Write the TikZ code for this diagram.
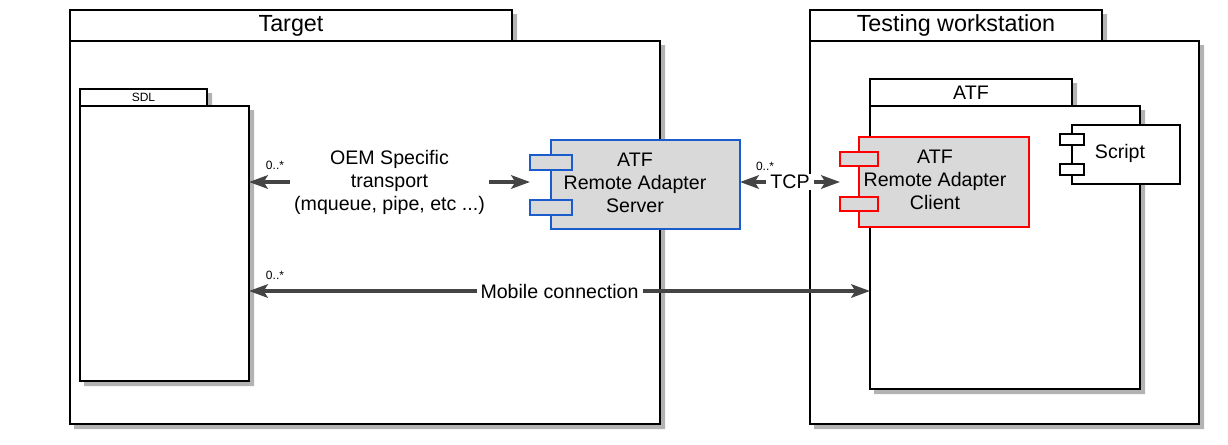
\documentclass[tikz,border=0pt]{standalone}
\usepackage{fontspec}
\setmainfont{Liberation Sans}
\usetikzlibrary{arrows.meta}
\definecolor{shadowgray}{HTML}{B3B3B3}
\definecolor{conngray}{HTML}{444444}
\definecolor{compfill}{HTML}{D9D9D9}
\definecolor{compblue}{HTML}{1A5CCC}
\definecolor{compred}{HTML}{FF0000}
\newcommand\myshadow[1]{%
  \fill[shadowgray] ([shift={(1,4)}]#1.north east) -- ([shift={(5,4)}]#1.north east)
    -- ([shift={(5,5)}]#1.south east) -- ([shift={(4,5)}]#1.south west)
    -- ([shift={(4,1)}]#1.south west) -- ([shift={(1,1)}]#1.south east) -- cycle;}
\begin{document}
\begin{tikzpicture}[x=0.75pt,y=-0.75pt,
  sz/.style 2 args={minimum width=#1*0.75pt, minimum height=#2*0.75pt},
  frame/.style={draw=black, line width=1.5pt, fill=white, inner sep=0pt, outer sep=0pt},
  tabtext/.style={font=\fontsize{17.5}{20}\selectfont},
  midtext/.style={font=\fontsize{14.7}{17.3}\selectfont},
  smalltext/.style={font=\fontsize{9}{10}\selectfont},
  comp/.style={draw=#1, line width=1.5pt, fill=compfill, inner sep=0pt, outer sep=0pt, anchor=north west},
  plaincomp/.style={draw=black, line width=1.5pt, fill=white, inner sep=0pt, outer sep=0pt, anchor=north west},
  conn/.style={{Stealth[length=14pt,width=10pt,inset=3pt]}-{Stealth[length=14pt,width=10pt,inset=3pt]}, line width=3pt, draw=conngray},
  clabel/.style={fill=white, inner xsep=3pt, inner ysep=1pt, midtext, align=center, text=black},
  card/.style={smalltext, inner sep=0pt}
]
\useasboundingbox (0,0) rectangle (1228,444);

% Target
\node[frame, sz={442}{31}, tabtext] (targettab) at (291,25.5) {Target};
\myshadow{targettab}
\node[frame, sz={590}{383}, anchor=north west] (targetbody) at (70,41) {};
\myshadow{targetbody}
% SDL
\node[frame, sz={127}{17}, smalltext] (sdltab) at (143.5,97.5) {SDL};
\myshadow{sdltab}
\node[frame, sz={169}{275}, anchor=north west] (sdlbody) at (80,106) {};
\myshadow{sdlbody}

% Testing workstation
\node[frame, sz={292}{31}, tabtext] (twtab) at (956,25.5) {Testing workstation};
\myshadow{twtab}
\node[frame, sz={389}{383}, anchor=north west] (twbody) at (810,41) {};
\myshadow{twbody}
% ATF package
\node[frame, sz={202}{27}, midtext] (atftab) at (971,92.5) {ATF};
\myshadow{atftab}
\node[frame, sz={270}{283}, anchor=north west] (atfbody) at (870,106) {};
\myshadow{atfbody}

% Server component
\node[comp=compblue, sz={189}{89}] (server) at (551,140) {};
\node[comp=compblue, sz={42}{15}] (srvp1) at (530,155) {};
\node[comp=compblue, sz={42}{15}] (srvp2) at (530,200) {};
\node[midtext, align=center] (srvtxt) at (635,183) {ATF\\Remote Adapter\\Server};

% Client component
\node[comp=compred, sz={170}{90}] (client) at (859,137) {};
\node[comp=compred, sz={38}{14}] (clip1) at (840,152) {};
\node[comp=compred, sz={38}{14}] (clip2) at (840,197) {};
\node[midtext, align=center] (clitxt) at (935,180) {ATF\\Remote Adapter\\Client};

% Script component
\node[plaincomp, sz={108}{59}] (script) at (1072,125) {};
\node[plaincomp, sz={24}{11}] (scrp1) at (1060,134) {};
\node[plaincomp, sz={24}{11}] (scrp2) at (1060,164) {};
\node[midtext] (scrtxt) at (1120,153) {Script};

% connectors
\coordinate (yoem) at (0,182);
\coordinate (ymob) at (0,291);
\draw[conn] (sdlbody.east |- yoem) -- (srvp1.west |- yoem)
  node[midway, clabel] (oemlbl) {OEM Specific\\transport\\(mqueue, pipe, etc ...)};
\draw[conn] (server.east |- yoem) -- (clip1.west |- yoem)
  node[midway, clabel] (tcplbl) {TCP};
\draw[conn] (sdlbody.east |- ymob) -- (atfbody.west |- ymob)
  node[midway, clabel] (moblbl) {Mobile connection};

\node[card] (card1) at (275,165) {0..*};
\node[card] (card2) at (765,166) {0..*};
\node[card] (card3) at (275,275) {0..*};
\end{tikzpicture}
\end{document}
